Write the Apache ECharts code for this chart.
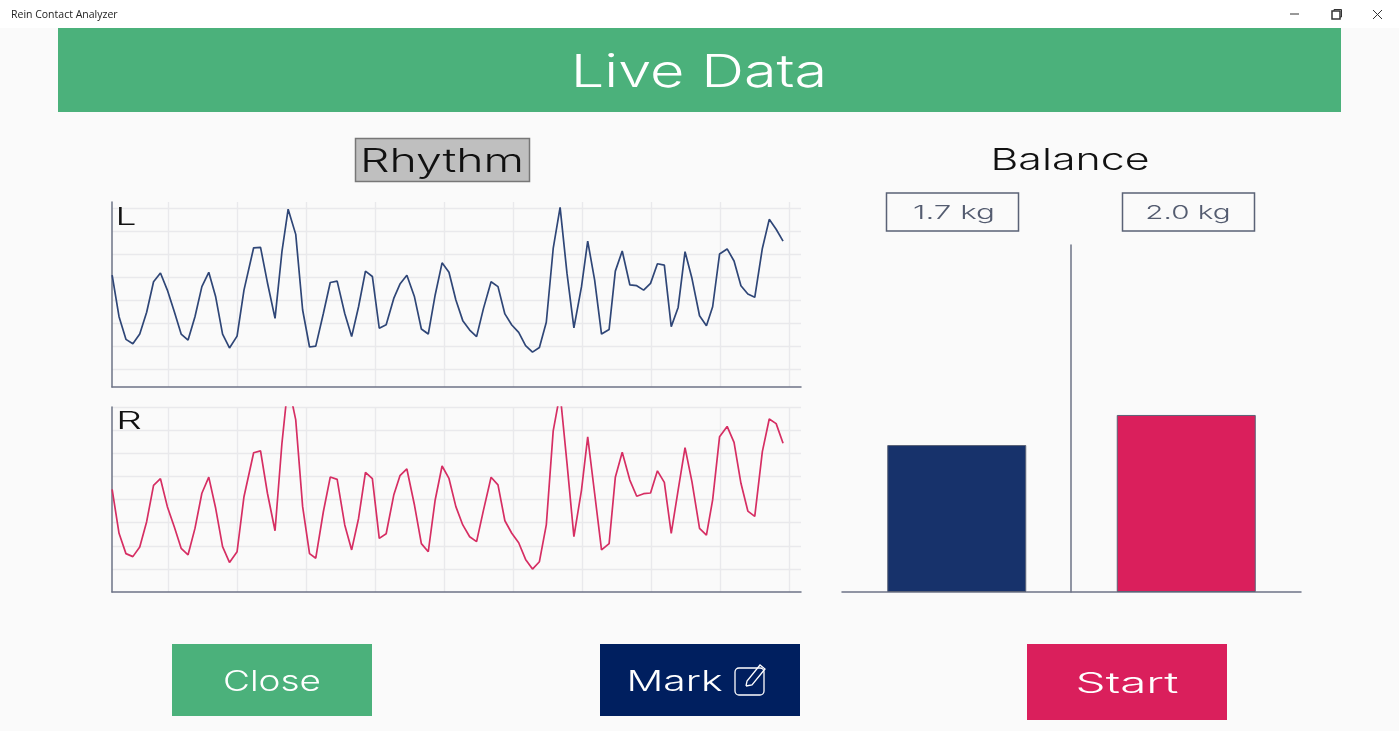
<!DOCTYPE html>
<html>

<head>
    <meta charset="utf-8">
    <title>Rein Contact Analyzer</title>
    <script src="https://cdn.jsdelivr.net/npm/echarts@6/dist/echarts.min.js"></script>
    <style>
        html, body { margin: 0; padding: 0; background: #fafafa; }
        #view { width: 1399px; height: 731px; }
    </style>
</head>

<body>
    <div id="view"></div>
    <script>
        // sample time, shared by both reins
        var times = [1.9, 2.9, 3.9, 4.9, 5.9, 6.9, 7.9, 8.9, 9.9, 10.9, 11.9, 12.9, 13.9, 14.9, 15.9, 16.9, 17.9, 18.9, 20.0, 21.0,
            22.4, 23.4, 24.4, 25.5, 26.5, 27.4, 28.5, 29.5, 30.5, 31.4, 32.5, 33.5, 34.5, 35.6, 36.6, 37.6, 38.6, 39.6, 40.6, 41.6,
            42.7, 43.6, 44.6, 45.7, 46.7, 47.7, 48.7, 49.7, 50.7, 51.7, 52.7, 53.7, 54.7, 55.7, 56.8, 57.8, 58.8, 59.8, 60.8, 61.8,
            62.8, 63.8, 64.8, 65.8, 66.8, 67.8, 68.8, 69.9, 70.8, 71.8, 72.8, 73.9, 74.8, 75.8, 76.9, 77.9, 78.9, 79.9, 80.9, 81.9,
            82.9, 83.9, 84.9, 85.9, 87.0, 88.0, 88.9, 89.9, 91.0, 92.0, 93.0, 94.0, 95.0, 96.1, 97.1, 98.1, 99.1];
        var leftRein = [48.4, 30.4, 20.6, 18.7, 22.9, 32.3, 45.5, 49.3, 41.9, 32.6, 22.9, 20.3, 30.4, 43.4, 49.6, 39.0, 22.9, 16.9, 22.0, 41.9,
            60.2, 60.4, 45.1, 29.7, 58.5, 76.9, 66.0, 33.3, 17.3, 17.7, 31.8, 45.2, 45.8, 31.8, 21.8, 34.7, 50.1, 47.8, 25.4, 26.9,
            38.3, 44.5, 48.3, 39.0, 25.1, 22.9, 39.8, 53.7, 49.6, 37.6, 28.7, 24.6, 21.8, 34.0, 45.5, 43.4, 31.6, 26.8, 23.6, 17.9,
            15.1, 17.1, 28.0, 59.9, 77.7, 49.1, 25.6, 43.4, 63.1, 46.3, 22.9, 24.9, 50.1, 58.8, 44.2, 43.8, 41.9, 44.8, 53.3, 52.7,
            26.1, 34.4, 58.5, 47.0, 30.8, 26.5, 34.7, 57.5, 59.7, 54.5, 43.8, 40.2, 38.8, 59.9, 72.5, 68.2, 63.1];
        var rightRein = [44.4, 25.4, 16.6, 15.3, 19.5, 30.4, 46.1, 49.0, 36.9, 28.2, 18.9, 16.1, 27.5, 42.7, 49.7, 36.2, 19.6, 12.8, 17.4, 41.2,
            60.2, 61.0, 42.7, 26.5, 64.3, 90.2, 74.4, 36.9, 16.6, 14.6, 34.7, 49.7, 48.7, 29.0, 18.2, 31.8, 51.7, 49.0, 23.2, 25.2,
            41.9, 50.3, 53.2, 37.6, 20.9, 17.4, 39.8, 54.5, 49.1, 36.9, 29.0, 23.9, 21.8, 35.4, 49.6, 46.3, 30.8, 25.4, 21.3, 14.1,
            9.9, 13.1, 29.0, 69.7, 85.9, 55.6, 23.9, 44.1, 67.1, 42.7, 18.2, 20.9, 49.6, 60.4, 48.4, 41.4, 42.5, 42.8, 52.4, 47.4,
            25.4, 44.1, 62.4, 47.7, 27.5, 24.6, 39.8, 67.1, 71.6, 64.7, 47.0, 35.0, 32.7, 60.7, 74.8, 72.8, 64.3];
        var timeTicks = [10, 20, 30, 40, 50, 60, 70, 80, 90, 100];
        var leftTicks = [7.5, 17.5, 27.5, 37.5, 47.5, 57.5, 67.5, 77.5];
        var rightTicks = [10, 20, 30, 40, 50, 60, 70, 80];
        var balanceNames = ['Left', 'Right'];
        var balanceValues = [1.66, 2.0];
        var balanceLabels = ['1.7 kg', '2.0 kg'];

        var axisColor = '#6d7386';
        var gridColor = '#e9e9ec';
        var green = '#4bb17b';
        var navy = '#001f5f';
        var red = '#da1f5c';
        var wide = '"Inter"';

        function pairs(values) {
            return times.map(function (t, i) { return [t, values[i]]; });
        }

        function timeAxis(gridIndex) {
            return {
                type: 'value', gridIndex: gridIndex, min: 1.88, max: 101.7,
                axisLine: { show: true, onZero: false, lineStyle: { color: axisColor, width: 1.5 } },
                axisTick: { show: false, customValues: timeTicks },
                axisLabel: { show: false, customValues: timeTicks },
                splitLine: { show: true, lineStyle: { color: gridColor, width: 1.4 } }
            };
        }

        function levelAxis(gridIndex, ticks) {
            return {
                type: 'value', gridIndex: gridIndex, min: 0, max: 80,
                axisLine: { show: true, lineStyle: { color: axisColor, width: 1.5 } },
                axisTick: { show: false, customValues: ticks },
                axisLabel: { show: false, customValues: ticks },
                splitLine: { show: true, lineStyle: { color: gridColor, width: 1.4 } }
            };
        }

        function reinSeries(index, values, color) {
            return {
                type: 'line', xAxisIndex: index, yAxisIndex: index, data: pairs(values),
                showSymbol: false, smooth: false, clip: true, animation: false,
                lineStyle: { color: color, width: 1.7 }
            };
        }

        // wide face of the app is approximated with a stretched light font
        function label(text, x, y, size, color, stretch) {
            return {
                type: 'text', x: x, y: y, scaleX: stretch, z: 10,
                style: {
                    text: text, fill: color, align: 'center', verticalAlign: 'middle',
                    font: '300 ' + size + 'px ' + wide
                }
            };
        }

        function box(x, y, w, h, fill, stroke) {
            return {
                type: 'rect', shape: { x: x, y: y, width: w, height: h }, z: 5,
                style: { fill: fill, stroke: stroke || null, lineWidth: stroke ? 1.5 : 0 }
            };
        }

        function stroke(points, color, width) {
            return {
                type: 'polyline', shape: { points: points }, z: 10,
                style: { stroke: color, lineWidth: width, fill: null }
            };
        }

        var elements = [
            // title bar
            box(0, 0, 1399, 28, '#ffffff'),
            {
                type: 'text', x: 11, y: 15, z: 10,
                style: { text: 'Rein Contact Analyzer', fill: '#222222', align: 'left', verticalAlign: 'middle', font: '10.5px "Open Sans"' }
            },
            stroke([[1290, 14], [1299, 14]], '#333333', 1),
            box(1332, 11, 8, 8, 'none', '#333333'),
            stroke([[1334, 11], [1334, 9.5], [1341.5, 9.5], [1341.5, 17], [1340, 17]], '#333333', 1),
            stroke([[1373, 10], [1382, 19]], '#333333', 1),
            stroke([[1382, 10], [1373, 19]], '#333333', 1),
            // header
            box(58, 28, 1283, 84, green),
            label('Live Data', 699, 73, 45, '#ffffff', 1.32),
            // panel titles
            box(355.5, 138.5, 174, 43, '#bfbfbf', '#777777'),
            label('Rhythm', 442, 162, 32, '#111111', 1.45),
            label('Balance', 1070, 161, 30, '#111111', 1.43),
            box(886.5, 193, 132, 38, 'none', '#5a6276'),
            label(balanceLabels[0], 954, 213, 19, '#545c70', 1.65),
            box(1122.5, 193, 132, 38, 'none', '#5a6276'),
            label(balanceLabels[1], 1188, 213, 19, '#545c70', 1.56),
            label('L', 126, 218, 24, '#111111', 1.55),
            label('R', 129, 422, 24, '#111111', 1.7),
            // buttons
            box(172, 644, 200, 72, green),
            label('Close', 272, 683, 28, '#ffffff', 1.32),
            box(600, 644, 200, 72, navy),
            label('Mark', 674.5, 683, 28, '#ffffff', 1.46),
            {
                type: 'rect', shape: { x: 735, y: 668, width: 29, height: 27, r: 4 }, z: 10,
                style: { fill: 'none', stroke: '#ffffff', lineWidth: 1.3 }
            },
            stroke([[746, 686], [747, 681], [760, 665], [765, 669], [752, 685], [746, 686]], '#ffffff', 1.3),
            box(1027, 644, 200, 76, red),
            label('Start', 1127, 685, 28, '#ffffff', 1.7)
        ];

        var view = echarts.init(document.getElementById('view'), null, { renderer: 'canvas' });
        view.setOption({
            animation: false,
            backgroundColor: '#fafafa',
            grid: [
                { left: 112, top: 202, width: 689, height: 185 },
                { left: 112, top: 407, width: 689, height: 185 },
                { left: 842, top: 245, width: 459, height: 347 }
            ],
            xAxis: [
                timeAxis(0),
                timeAxis(1),
                {
                    type: 'category', gridIndex: 2, data: balanceNames,
                    axisLine: { show: true, lineStyle: { color: axisColor, width: 1.5 } },
                    axisTick: { show: false }, axisLabel: { show: false }, splitLine: { show: false }
                }
            ],
            yAxis: [
                levelAxis(0, leftTicks),
                levelAxis(1, rightTicks),
                {
                    type: 'value', gridIndex: 2, min: 0, max: 3.92, offset: -229,
                    axisLine: { show: true, lineStyle: { color: axisColor, width: 1.5 } },
                    axisTick: { show: false }, axisLabel: { show: false }, splitLine: { show: false }
                }
            ],
            series: [
                reinSeries(0, leftRein, '#2f4677'),
                reinSeries(1, rightRein, '#d62e63'),
                {
                    type: 'bar', xAxisIndex: 2, yAxisIndex: 2, barWidth: 139, animation: false,
                    data: [
                        { value: balanceValues[0], itemStyle: { color: '#17326b', borderColor: '#5a6276', borderWidth: 1 } },
                        { value: balanceValues[1], itemStyle: { color: red, borderColor: '#5a6276', borderWidth: 1 } }
                    ]
                }
            ],
            graphic: { elements: elements }
        });
    </script>

</body>

</html>
